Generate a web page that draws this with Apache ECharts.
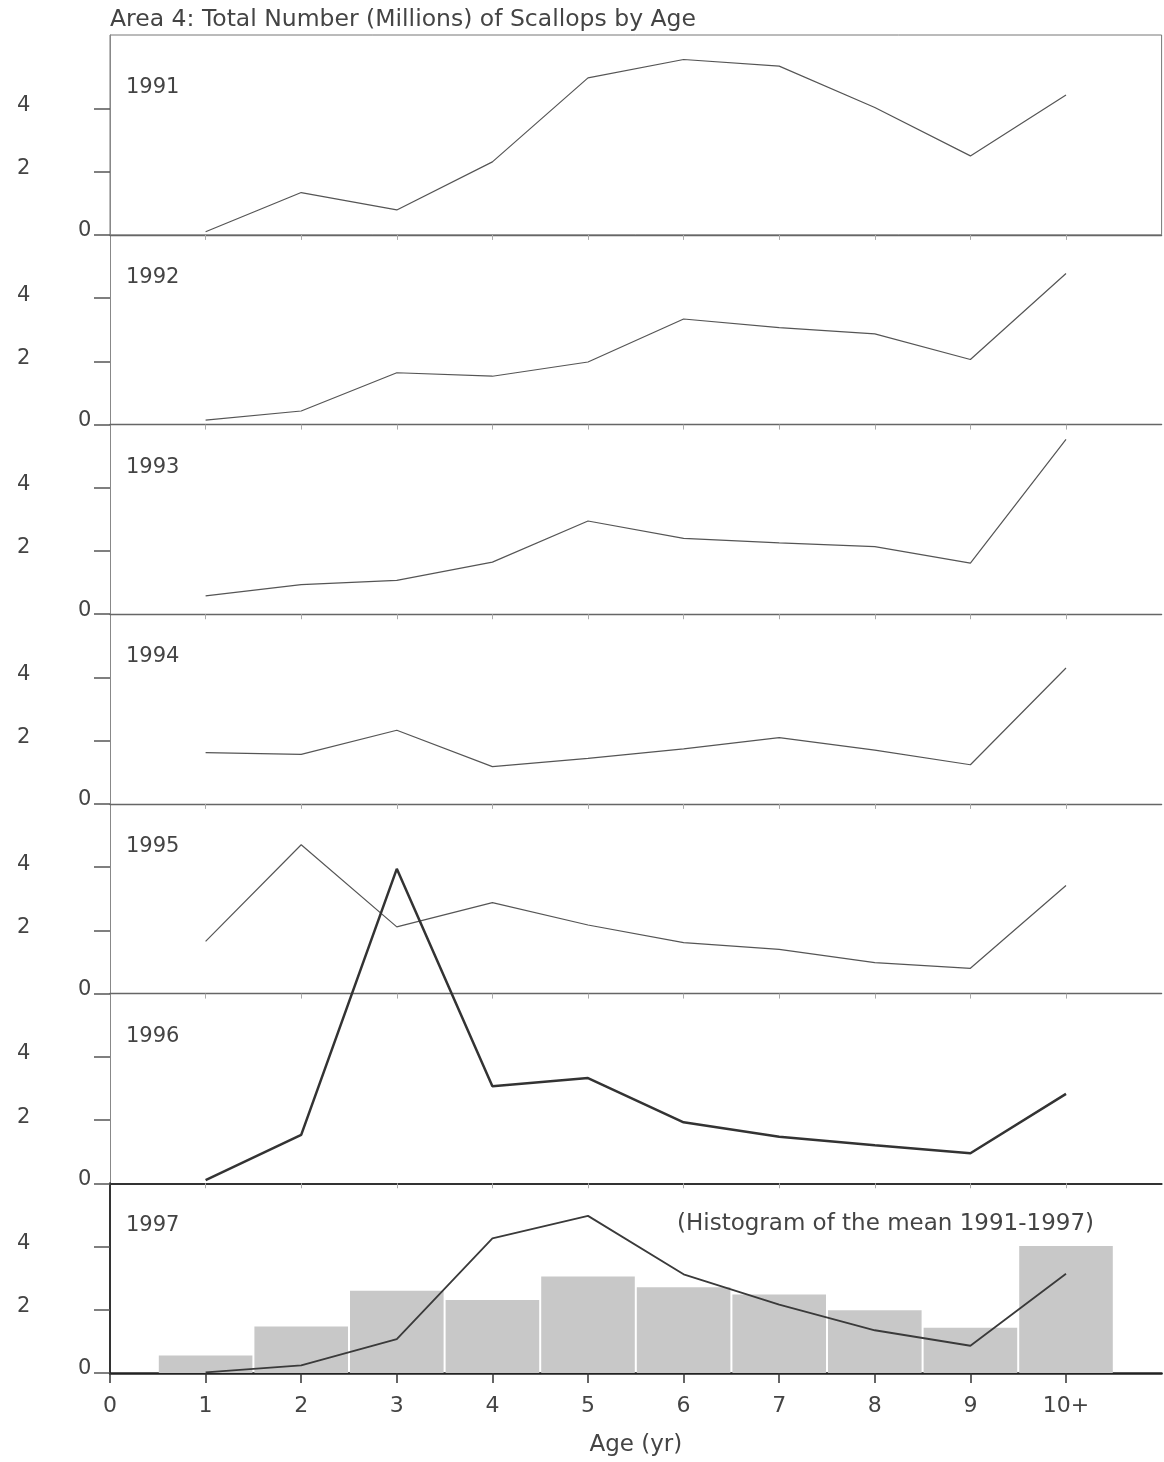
<!DOCTYPE html>
<html><head><meta charset="utf-8">
<script src="https://cdn.jsdelivr.net/npm/echarts@6/dist/echarts.min.js"></script>
<style>html,body{margin:0;padding:0;background:#fff}#c{width:1164px;height:1462px}</style>
</head><body><div id="c"></div>
<script>
// ---- data ----
const ages = [1, 2, 3, 4, 5, 6, 7, 8, 9, 10];
const xTickValues = [0, 1, 2, 3, 4, 5, 6, 7, 8, 9, 10];
const xTickLabels = ['0', '1', '2', '3', '4', '5', '6', '7', '8', '9', '10+'];
const yTickValues = [0, 2, 4];
const years = ['1991', '1992', '1993', '1994', '1995', '1996', '1997'];
const n1991 = [0.10, 1.34, 0.79, 2.31, 4.97, 5.55, 5.34, 4.03, 2.50, 4.43];
const n1992 = [0.14, 0.43, 1.64, 1.53, 1.98, 3.34, 3.07, 2.87, 2.06, 4.78];
const n1993 = [0.58, 0.94, 1.07, 1.65, 2.95, 2.40, 2.26, 2.14, 1.62, 5.53];
const n1994 = [1.62, 1.57, 2.33, 1.18, 1.44, 1.74, 2.10, 1.70, 1.24, 4.30];
const n1995 = [1.65, 4.71, 2.11, 2.88, 2.17, 1.61, 1.40, 0.98, 0.80, 3.42];
const n1996 = [0.10, 1.53, 9.95, 3.07, 3.33, 1.93, 1.47, 1.20, 0.95, 2.83];
const n1997 = [0.02, 0.24, 1.07, 4.26, 4.97, 3.12, 2.16, 1.35, 0.86, 3.14];
const meanHist = [0.55, 1.47, 2.60, 2.31, 3.05, 2.71, 2.48, 1.98, 1.43, 4.02];
const chartTitle = 'Area 4: Total Number (Millions) of Scallops by Age';
const histLabel = '(Histogram of the mean 1991-1997)';
const xAxisName = 'Age (yr)';

// ---- layout ----
const seriesByYear = [n1991, n1992, n1993, n1994, n1995, n1996, n1997];
const FONT = 'DejaVu Sans';
const X0 = 110, UX = 95.6, XMAX = 11;
const Z0 = 234.9, STEP = 189.67, UY = 31.6, TOP0 = 35;

const grids = [], xAxes = [], yAxes = [], series = [], titles = [];
titles.push({text: chartTitle, left: 110, top: 8, padding: 0,
  textStyle: {fontFamily: FONT, fontSize: 23.5, fontWeight: 'normal', color: '#444'}});

for (let k = 0; k < 7; k++) {
  const zero = Z0 + k * STEP;
  const top = k === 0 ? TOP0 : zero - 6 * UY;
  const ymax = (zero - top) / UY;
  const last = k === 6;
  grids.push({left: X0, top: top, width: XMAX * UX, height: zero - top,
    show: k === 0, borderColor: '#777', borderWidth: 1, backgroundColor: 'transparent',
    outerBoundsMode: 'none', containLabel: false});
  xAxes.push({gridIndex: k, type: 'value', min: 0, max: XMAX, position: 'bottom',
    axisLine: {show: true, onZero: false, lineStyle: {
      color: last ? '#222' : (k === 5 ? '#333' : '#666'), width: last ? 2.5 : (k === 5 ? 2 : 1.3)}},
    axisTick: {show: true, customValues: last ? xTickValues : ages, length: last ? 10 : 5,
      lineStyle: {color: last ? '#333' : '#aaa', width: last ? 1.5 : 1}},
    axisLabel: {show: last, customValues: xTickValues, margin: 22,
      formatter: v => xTickLabels[xTickValues.indexOf(v)] || '',
      fontFamily: FONT, fontSize: 22, color: '#444'},
    splitLine: {show: false},
    name: last ? xAxisName : '', nameLocation: 'middle', nameGap: 61,
    nameTextStyle: {fontFamily: FONT, fontSize: 23, color: '#444'}
  });
  yAxes.push({gridIndex: k, type: 'value', min: 0, max: ymax,
    axisLine: {show: true, lineStyle: {color: last ? '#333' : '#888', width: last ? 2 : 1}},
    axisTick: {show: true, customValues: yTickValues, length: 16,
      lineStyle: {color: '#555', width: 1.5}},
    axisLabel: {show: true, customValues: yTickValues, align: 'left', margin: 93,
      formatter: v => v === 0 ? '{z|0}' : '{n|' + v + '}',
      rich: {
        z: {fontFamily: FONT, fontSize: 21, color: '#444', padding: [0, 0, 8, 61]},
        n: {fontFamily: FONT, fontSize: 21, color: '#444', padding: [0, 0, 6, 0]}
      }},
    splitLine: {show: false}
  });
  titles.push({text: years[k], left: 126, top: zero - 147 - 10.5, padding: 0,
    textStyle: {fontFamily: FONT, fontSize: 21, fontWeight: 'normal', color: '#444'}});
  const vals = seriesByYear[k];
  series.push({type: 'line', xAxisIndex: k, yAxisIndex: k, symbol: 'none', clip: false,
    data: ages.map((a, i) => [a, vals[i]]), z: 5,
    lineStyle: {color: k === 5 ? '#333' : (last ? '#3a3a3a' : '#555'),
      width: k === 5 ? 2.5 : (last ? 1.8 : 1.2)}});
}
series.push({type: 'bar', xAxisIndex: 6, yAxisIndex: 6, barWidth: 93.6, z: 1,
  data: ages.map((a, i) => [a, meanHist[i]]), itemStyle: {color: '#c8c8c8'}});
titles.push({text: histLabel, left: 677, top: 1224 - 11.5, padding: 0,
  textStyle: {fontFamily: FONT, fontSize: 23, fontWeight: 'normal', color: '#444'}});

const chart = echarts.init(document.getElementById('c'));
chart.setOption({
  animation: false, backgroundColor: '#fff',
  title: titles, grid: grids, xAxis: xAxes, yAxis: yAxes, series: series
});
</script></body></html>
